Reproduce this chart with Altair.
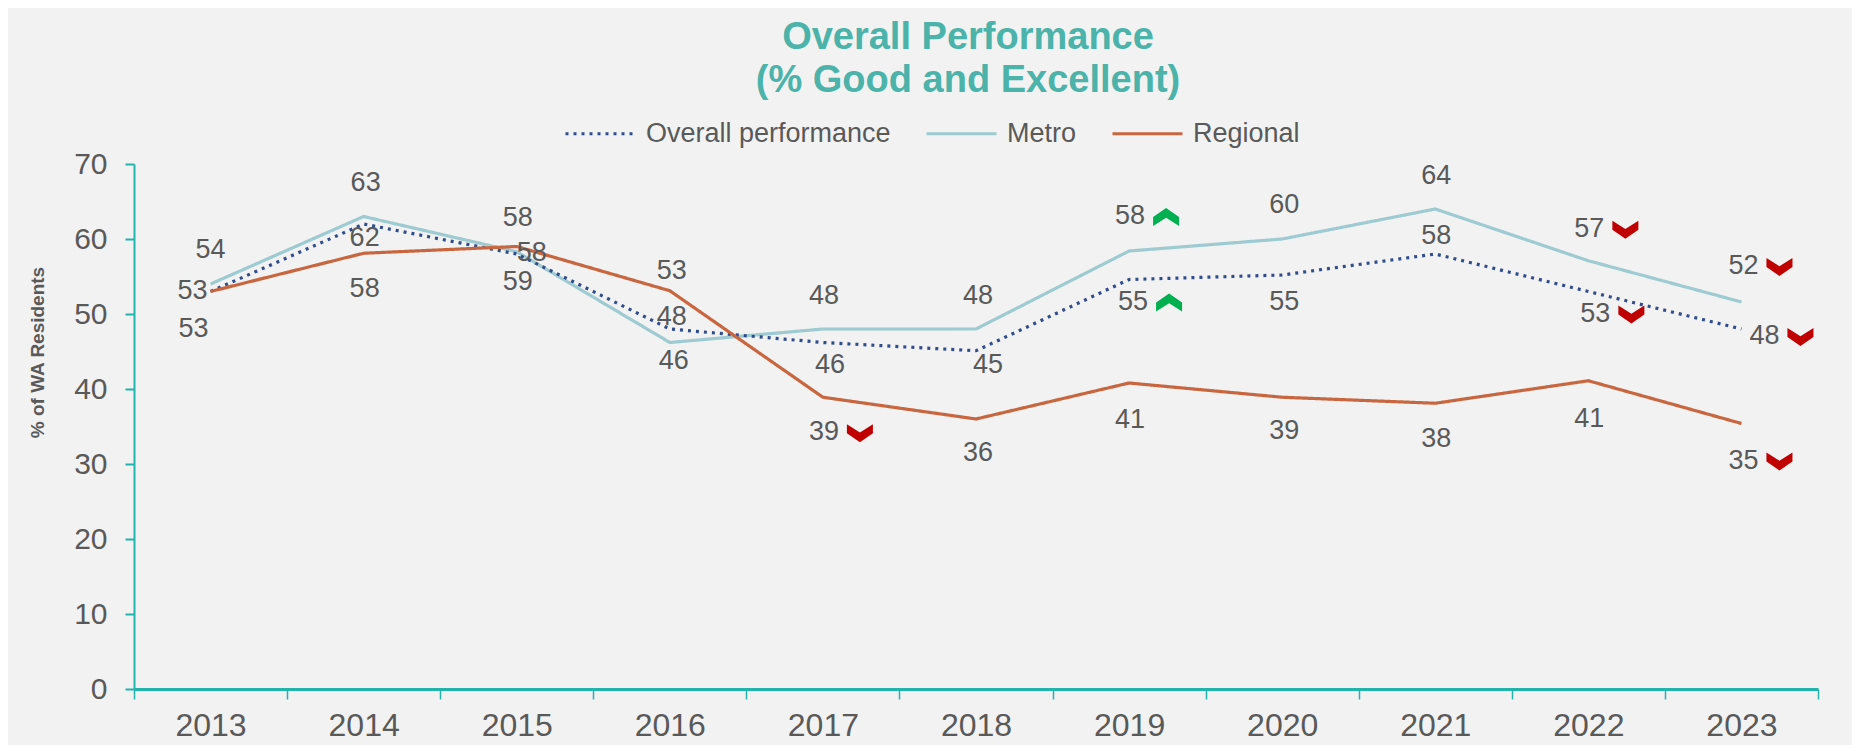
import altair as alt
import pandas as pd

# ---------------- data ----------------
years = [2013, 2014, 2015, 2016, 2017, 2018, 2019, 2020, 2021, 2022, 2023]
series_names = ["Overall performance", "Metro", "Regional"]

overall = [53, 62, 58, 48, 46.2, 45.1, 54.6, 55.2, 58, 53, 48]
metro = [54, 63, 58.3, 46.2, 48, 48, 58.4, 60, 64, 57.1, 51.6]
regional = [53, 58.1, 59, 53.1, 38.9, 36, 40.8, 38.9, 38.1, 41.1, 35.4]

# significant change markers
overall_sig = ["", "", "", "", "", "", "up", "", "", "down", "down"]
metro_sig = ["", "", "", "", "", "", "up", "", "", "down", "down"]
regional_sig = ["", "", "", "", "down", "", "", "", "", "", "down"]

# label placement (pixel offsets from the data point)
overall_dx = [-18, 1, 15, 2, 7, 12, 4, 2, 1, 7, 23]
overall_dy = [-1, 14, -1, -12, 22, 14, 22, 27, -18, 22, 7]
metro_dx = [0, 2, 1, 4, 1, 2, 1, 2, 1, 1, 2]
metro_dy = [-34, -34, -34, 18, -33, -33, -35, -34, -33, -32, -36]
regional_dx = [-17, 1, 1, 2, 1, 2, 1, 2, 1, 1, 2]
regional_dy = [37, 36, 35, -20, 35, 34, 37, 34, 36, 38, 37]

# ---------------- style ----------------
W, H = 1684, 525
PXY = W / 11.0     # pixels per year
PXV = H / 70.0     # pixels per percentage point
TEAL = "#22B3AC"
GREY = "#595959"
FONT = "Liberation Sans"
COL_OVERALL = "#2F4C8C"
COL_METRO = "#9DCBD1"
COL_REGIONAL = "#C8663F"

rows = []
for name, vals, sig, dx, dy in [
    ("Metro", metro, metro_sig, metro_dx, metro_dy),
    ("Overall performance", overall, overall_sig, overall_dx, overall_dy),
    ("Regional", regional, regional_sig, regional_dx, regional_dy),
]:
    for i, yr in enumerate(years):
        rows.append(dict(series=name, year=yr, value=vals[i], sig=sig[i], dx=dx[i], dy=dy[i]))
df = pd.DataFrame(rows)

x_scale = alt.Scale(domain=[2012.5, 2023.5], nice=False, zero=False)
y_scale = alt.Scale(domain=[0, 70], nice=False, zero=True)

legend_opts = dict(
    orient="none",
    legendX=430,
    legendY=-67,
    direction="horizontal",
    title=None,
    symbolType="stroke",
    symbolSize=4900,
    symbolStrokeWidth=3,
    labelFontSize=27,
    labelFont=FONT,
    labelColor=GREY,
    labelOffset=9,
    columnPadding=29,
    padding=0,
    labelLimit=500,
)

base = alt.Chart(df)

lines = base.mark_line(strokeWidth=3.2, clip=False).encode(
    x=alt.X(
        "year:Q",
        scale=x_scale,
        axis=alt.Axis(
            values=[2012.5 + i for i in range(12)],
            labelExpr="datum.value < 2023 ? '' + (floor(datum.value) + 1) : ''",
            labelOffset=PXY / 2,
            tickSize=10,
            tickColor=TEAL,
            tickWidth=1.5,
            domainColor=TEAL,
            domainWidth=3,
            labelFontSize=32,
            labelFont=FONT,
            labelColor=GREY,
            labelPadding=11,
            labelFlush=False,
            labelOverlap=False,
            labelBound=False,
            grid=False,
            title=None,
        ),
    ),
    y=alt.Y(
        "value:Q",
        scale=y_scale,
        axis=alt.Axis(
            values=list(range(0, 71, 10)),
            domainColor=TEAL,
            domainWidth=2,
            tickColor=TEAL,
            tickWidth=2,
            tickSize=9,
            labelFontSize=30,
            labelFont=FONT,
            labelColor=GREY,
            labelPadding=18,
            grid=False,
            title="% of WA Residents",
            titleFontSize=19,
            titleFont=FONT,
            titleFontWeight="bold",
            titleColor=GREY,
            titleX=-97,
            titleY=188,
            titleAngle=-90,
            titleAlign="center",
            titleBaseline="middle",
        ),
    ),
    color=alt.Color(
        "series:N",
        scale=alt.Scale(domain=series_names, range=[COL_OVERALL, COL_METRO, COL_REGIONAL]),
        legend=alt.Legend(**legend_opts),
    ),
    strokeDash=alt.StrokeDash(
        "series:N",
        scale=alt.Scale(domain=series_names, range=[[3, 5], [1, 0], [1, 0]]),
        legend=alt.Legend(**legend_opts),
    ),
    detail="series:N",
)

labelled = base.transform_calculate(
    lx=f"datum.year + datum.dx / {PXY}",
    ly=f"datum.value - datum.dy / {PXV}",
    cx=f"datum.year + (datum.dx + 36) / {PXY}",
    cy=f"datum.value - (datum.dy + 1) / {PXV}",
)

labels = labelled.mark_text(
    fontSize=27, font=FONT, color=GREY, align="center", baseline="middle"
).encode(
    x=alt.X("lx:Q", scale=x_scale),
    y=alt.Y("ly:Q", scale=y_scale),
    text=alt.Text("value:Q", format=".0f"),
)

DOWN = "M -1 -0.7 L 0 -0.05 L 1 -0.7 L 1 0 L 0 0.7 L -1 0 Z"
UP = "M -1 0.7 L 0 0.05 L 1 0.7 L 1 0 L 0 -0.7 L -1 0 Z"

down_marks = labelled.transform_filter("datum.sig == 'down'").mark_point(
    shape=DOWN, size=676, filled=True, color="#C00000", opacity=1, strokeWidth=0
).encode(x=alt.X("cx:Q", scale=x_scale), y=alt.Y("cy:Q", scale=y_scale))

up_marks = labelled.transform_filter("datum.sig == 'up'").mark_point(
    shape=UP, size=676, filled=True, color="#00B050", opacity=1, strokeWidth=0
).encode(x=alt.X("cx:Q", scale=x_scale), y=alt.Y("cy:Q", scale=y_scale))

chart = alt.layer(lines, labels, down_marks, up_marks).properties(
    width=W,
    height=H,
    autosize=alt.AutoSizeParams(type="none"),
    padding={"left": 126, "top": 156, "right": 34, "bottom": 56},
    background="#F2F2F2",
    title=alt.TitleParams(
        text=["Overall Performance", "(% Good and Excellent)"],
        fontSize=38,
        font=FONT,
        fontWeight="bold",
        color="#4BB3AA",
        anchor="middle",
        frame="group",
        lineHeight=43,
        offset=2,
        dx=-8,
        dy=5,
    ),
).configure_view(stroke=None)

chart.save("out.html", embed_options={"renderer": "svg", "actions": False})
